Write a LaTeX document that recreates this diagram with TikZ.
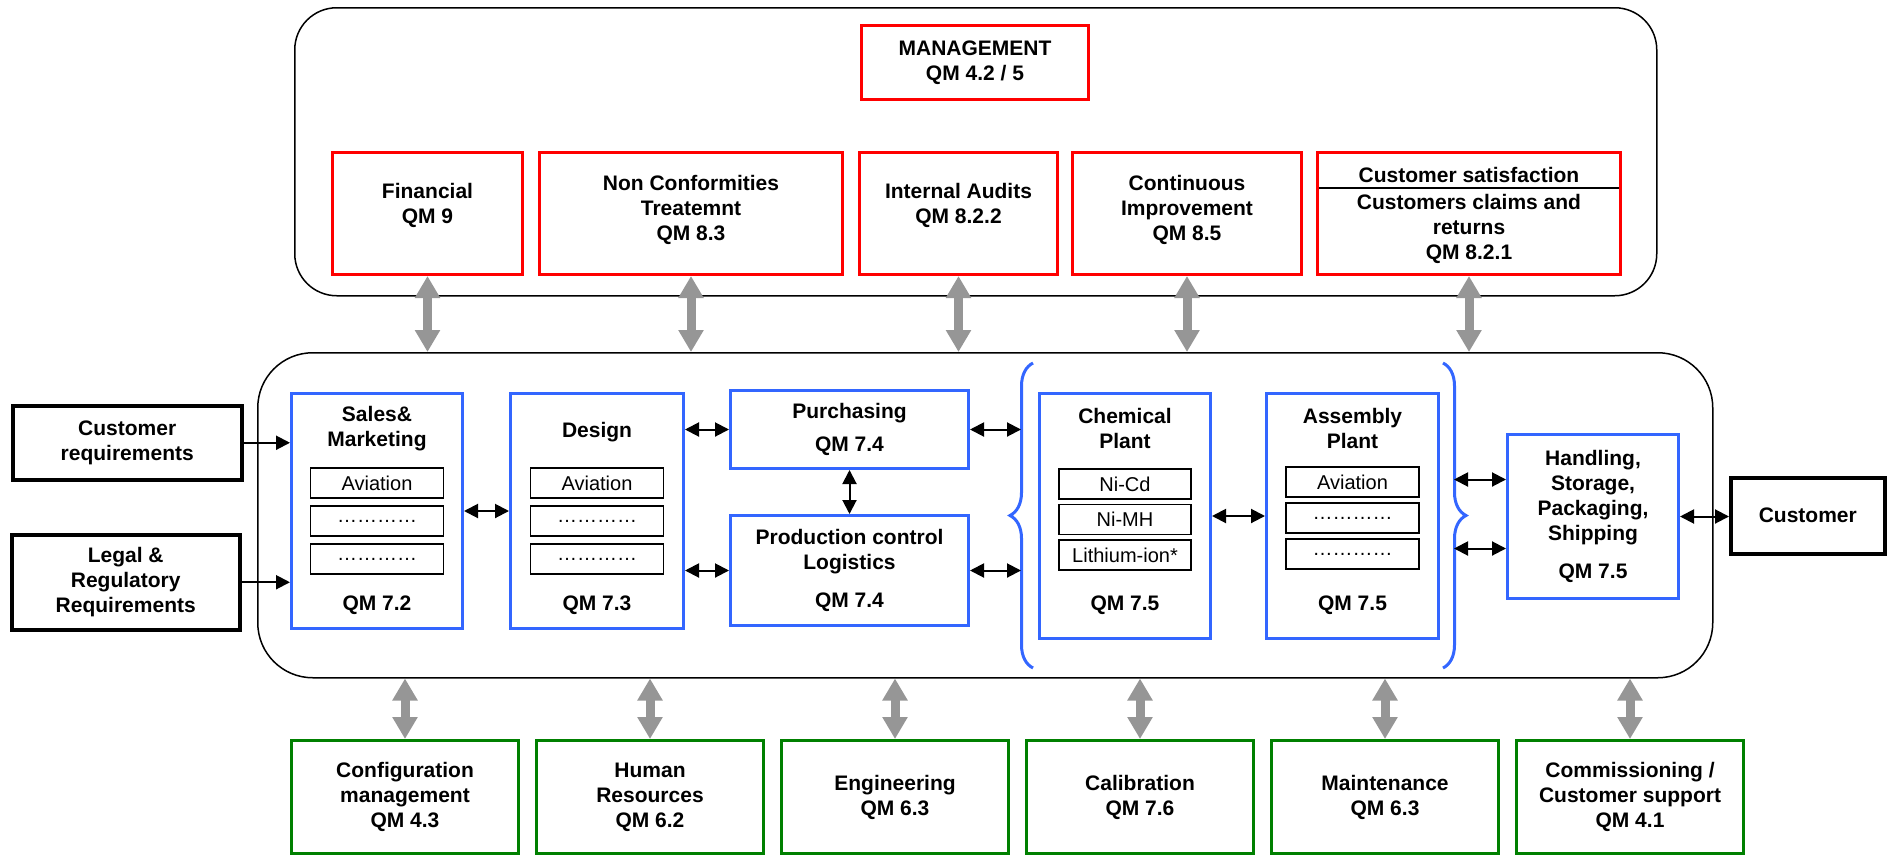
\documentclass[tikz,border=0pt]{standalone}
\usepackage{fontspec}
\setmainfont{Liberation Sans}
\usetikzlibrary{positioning,arrows.meta,decorations.pathreplacing}

\definecolor{qmred}{RGB}{255,0,0}
\definecolor{qmblue}{RGB}{51,102,255}
\definecolor{qmgreen}{RGB}{0,128,0}
\definecolor{qmgray}{RGB}{150,150,150}

\newcommand{\qmfont}{\bfseries\fontsize{21}{25}\selectfont}
\newcommand{\itemfont}{\fontsize{20}{24}\selectfont}

\begin{document}
\begin{tikzpicture}[
    x=1pt, y=-1pt,
    node distance=14pt,
    every node/.style={font=\qmfont, align=center},
    area/.style={draw, line width=1.5pt, rounded corners=42pt},
    redbox/.style={draw=qmred, line width=3pt, minimum height=122pt},
    bluebox/.style={draw=qmblue, line width=3pt},
    greenbox/.style={draw=qmgreen, line width=3pt, minimum width=227pt, minimum height=113pt},
    blackbox/.style={draw, line width=3.5pt},
    item/.style={draw, line width=1.5pt, minimum width=133pt, minimum height=30pt, inner sep=0pt, font=\itemfont},
    arrow/.style={->, >={Triangle[length=14pt,width=14pt]}, line width=2pt},
    dblarrow/.style={<->, >={Triangle[length=14pt,width=14pt]}, line width=2pt},
    link/.style={<->, >={Triangle[length=22pt,width=24pt]}, draw=qmgray, line width=9pt},
    curly/.style={draw=qmblue, line width=3pt, decorate, decoration={brace, amplitude=23pt}}
]
    \useasboundingbox (0,0) rectangle (1887,857);

    % Management and core process areas
    \node[area, minimum width=1362pt, minimum height=288pt, anchor=north west] (mgmtarea) at (294,7) {};
    \node[area, rounded corners=55pt, minimum width=1455pt, minimum height=325pt, anchor=north west] (core) at (257,352) {};

    % Management processes
    \node[redbox, minimum width=227pt, minimum height=74pt, anchor=north west] (mgmt) at (860,24) {MANAGEMENT\\QM 4.2 / 5};
    \node[redbox, minimum width=190pt, anchor=north west] (fin) at (331,151) {};
    \node (finT) at ([yshift=8pt]fin.center) {Financial\\QM 9};
    \node[redbox, minimum width=303pt, right=of fin] (ncr) {};
    \node (ncrT) at ([yshift=4pt]ncr.center) {Non Conformities\\Treatemnt\\QM 8.3};
    \node[redbox, minimum width=198pt, right=of ncr] (audit) {};
    \node (auditT) at ([yshift=8pt]audit.center) {Internal Audits\\QM 8.2.2};
    \node[redbox, minimum width=229pt, right=12pt of audit] (improve) {};
    \node (improveT) at ([yshift=4pt]improve.center) {Continuous\\Improvement\\QM 8.5};
    \node[redbox, minimum width=303pt, right=13pt of improve] (csat) {};
    \node (csatT) at ([yshift=-24pt]csat.north) {Customer satisfaction};
    \node (csatB) at ([yshift=-78pt]csat.north) {Customers claims and\\returns\\QM 8.2.1};
    \draw[line width=2.5pt] ([xshift=3pt,yshift=-37pt]csat.north west) -- ([xshift=-3pt,yshift=-37pt]csat.north east);

    % Inputs
    \node[blackbox, minimum width=229pt, minimum height=74pt, anchor=north west] (custreq) at (11,404) {Customer\\requirements};
    \node[blackbox, minimum width=228pt, minimum height=95pt, anchor=north west] (legal) at (10,533) {Legal \&\\Regulatory\\Requirements};

    % Sales & Marketing
    \node[bluebox, minimum width=171pt, minimum height=235pt, anchor=north west] (sales) at (290,392) {};
    \node (salesT) at ([yshift=-37pt]sales.north) {Sales\&\\Marketing};
    \node[item] (sales1) at ([yshift=-91pt]sales.north) {Aviation};
    \node[item, below=6.5pt of sales1] (sales2) {…………};
    \node[item, below=6.5pt of sales2] (sales3) {…………};
    \node (salesQ) at ([yshift=25pt]sales.south) {QM 7.2};

    % Design
    \node[bluebox, minimum width=173pt, minimum height=235pt, anchor=north west] (design) at (509,392) {};
    \node (designT) at ([yshift=-40pt]design.north) {Design};
    \node[item] (design1) at ([yshift=-91pt]design.north) {Aviation};
    \node[item, below=6.5pt of design1] (design2) {…………};
    \node[item, below=6.5pt of design2] (design3) {…………};
    \node (designQ) at ([yshift=25pt]design.south) {QM 7.3};

    % Purchasing and production control
    \node[bluebox, minimum width=238pt, minimum height=78pt, anchor=north west] (purch) at (729,389) {Purchasing\\[8pt]QM 7.4};
    \node[bluebox, minimum width=238pt, minimum height=110pt, anchor=north west] (prod) at (729,514) {Production control\\Logistics\\[13pt]QM 7.4};

    % Chemical plant
    \node[bluebox, minimum width=171pt, minimum height=245pt, anchor=north west] (chem) at (1038,392) {};
    \node (chemT) at ([yshift=-36pt]chem.north) {Chemical\\Plant};
    \node[item, minimum width=132pt] (chem1) at ([yshift=-92pt]chem.north) {Ni-Cd};
    \node[item, minimum width=132pt, below=4pt of chem1] (chem2) {Ni-MH};
    \node[item, minimum width=132pt, below=4pt of chem2] (chem3) {Lithium-ion*};
    \node (chemQ) at ([yshift=35pt]chem.south) {QM 7.5};

    % Assembly plant
    \node[bluebox, minimum width=172pt, minimum height=245pt, anchor=north west] (assy) at (1265,392) {};
    \node (assyT) at ([yshift=-36pt]assy.north) {Assembly\\Plant};
    \node[item] (assy1) at ([yshift=-90pt]assy.north) {Aviation};
    \node[item, below=4.5pt of assy1] (assy2) {…………};
    \node[item, below=4.5pt of assy2] (assy3) {…………};
    \node (assyQ) at ([yshift=35pt]assy.south) {QM 7.5};

    % Plants grouped by braces
    \draw[curly] (1033,668) -- (1033,363);
    \draw[curly] (1443,363) -- (1443,668);
    \coordinate (lbrace) at (1021,515);
    \coordinate (rbrace) at (1454,515);

    % Handling and customer
    \node[bluebox, minimum width=171pt, minimum height=164pt, anchor=north west] (handling) at (1506,433) {Handling,\\Storage,\\Packaging,\\Shipping\\[13pt]QM 7.5};
    \node[blackbox, minimum width=154pt, minimum height=76pt, anchor=north west] (customer) at (1729,476) {Customer};

    % Support processes
    \node[greenbox, anchor=north west] (cfg) at (290,739) {Configuration\\management\\QM 4.3};
    \node[greenbox, right=15pt of cfg] (hr) {Human\\Resources\\QM 6.2};
    \node[greenbox, right=15pt of hr] (eng) {Engineering\\QM 6.3};
    \node[greenbox, right=15pt of eng] (cal) {Calibration\\QM 7.6};
    \node[greenbox, right=15pt of cal] (maint) {Maintenance\\QM 6.3};
    \node[greenbox, right=15pt of maint] (comm) {Commissioning /\\Customer support\\QM 4.1};

    % Links between the areas
    \foreach \n in {fin,ncr,audit,improve,csat}
        \draw[link] (\n.south) -- (\n.south |- core.north);
    \foreach \n in {cfg,hr,eng,cal,maint,comm}
        \draw[link] (\n.north) -- (\n.north |- core.south);

    % Process flow
    \draw[arrow] (custreq.east) -- (custreq.east -| sales.west);
    \draw[arrow] (legal.east) -- (legal.east -| sales.west);
    \draw[dblarrow] (sales.east) -- (design.west);
    \draw[dblarrow] (purch.west -| design.east) -- (purch.west);
    \draw[dblarrow] (prod.west -| design.east) -- (prod.west);
    \draw[dblarrow] (purch.south) -- (prod.north);
    \draw[dblarrow] (purch.east) -- (purch.east -| lbrace);
    \draw[dblarrow] (prod.east) -- (prod.east -| lbrace);
    \draw[dblarrow] (chem.east) -- (assy.west);
    \draw[dblarrow] ([yshift=37pt]handling.west -| rbrace) -- ([yshift=37pt]handling.west);
    \draw[dblarrow] ([yshift=-32pt]handling.west -| rbrace) -- ([yshift=-32pt]handling.west);
    \draw[dblarrow] (handling.east) -- (handling.east -| customer.west);

\end{tikzpicture}
\end{document}
